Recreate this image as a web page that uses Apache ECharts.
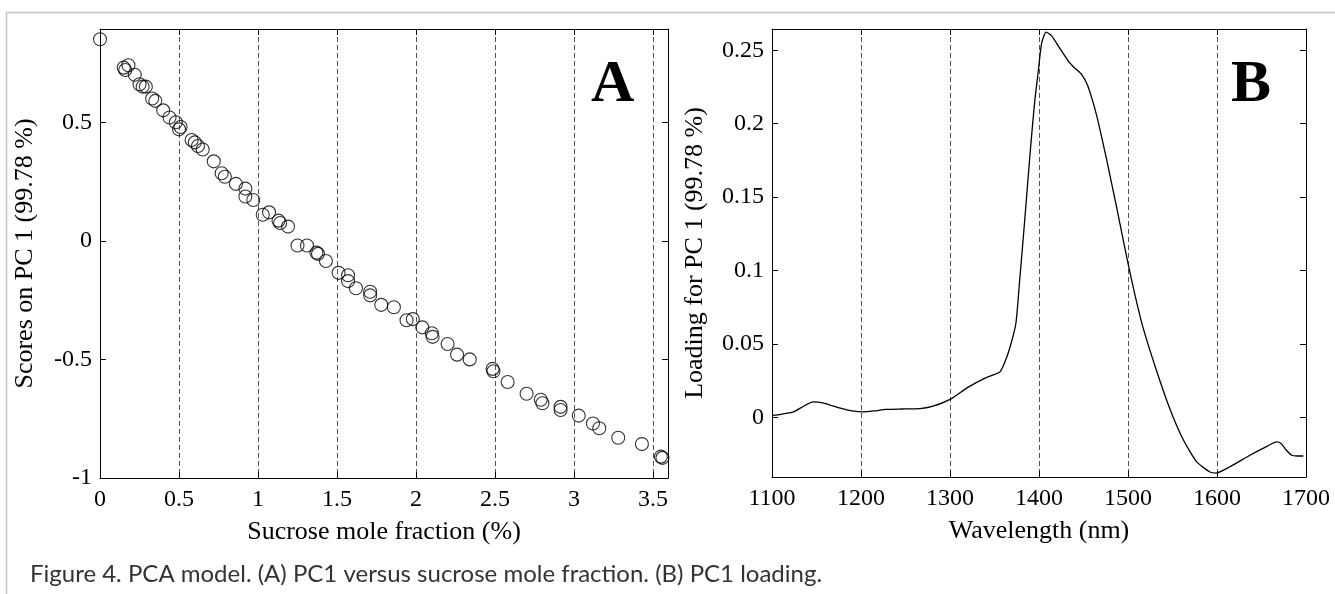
<!DOCTYPE html>
<html>
<head>
<meta charset="utf-8">
<script src="https://cdn.jsdelivr.net/npm/echarts@6/dist/echarts.min.js"></script>
<style>
html,body{margin:0;padding:0;background:#fff;}
#chart{width:1335px;height:594px;}
</style>
</head>
<body>
<div id="chart"></div>
<script>
// ---- Panel A: PC1 scores vs sucrose mole fraction ----
const sucroseX = [0, 0.15, 0.16, 0.18, 0.22, 0.25, 0.27, 0.29, 0.33, 0.35, 0.40, 0.44, 0.48, 0.50, 0.51,
  0.58, 0.60, 0.62, 0.65, 0.72, 0.77, 0.79, 0.86, 0.92, 0.92, 0.97, 1.03, 1.07, 1.13, 1.14, 1.19,
  1.25, 1.31, 1.37, 1.38, 1.43, 1.51, 1.57, 1.57, 1.62, 1.71, 1.71, 1.78, 1.86, 1.94, 1.98, 2.04,
  2.10, 2.105, 2.20, 2.26, 2.34, 2.485, 2.49, 2.58, 2.70, 2.79, 2.80, 2.915, 2.915, 3.03, 3.12,
  3.16, 3.28, 3.43, 3.55, 3.56];
const scoresPC1 = [0.85, 0.73, 0.72, 0.74, 0.70, 0.66, 0.65, 0.65, 0.60, 0.59, 0.55, 0.52, 0.50, 0.47, 0.48,
  0.425, 0.415, 0.40, 0.385, 0.335, 0.285, 0.27, 0.24, 0.22, 0.187, 0.172, 0.11, 0.12, 0.085, 0.075, 0.06,
  -0.02, -0.02, -0.05, -0.055, -0.085, -0.135, -0.145, -0.17, -0.20, -0.215, -0.23, -0.27, -0.28, -0.335, -0.33, -0.365,
  -0.39, -0.405, -0.435, -0.48, -0.50, -0.54, -0.55, -0.595, -0.645, -0.67, -0.685, -0.70, -0.713, -0.737, -0.77,
  -0.79, -0.83, -0.857, -0.91, -0.915];

// ---- Panel B: PC1 loading vs wavelength ----
const wavelength = [1100, 1110, 1124, 1135, 1146, 1157, 1168, 1180, 1190, 1202, 1215, 1228, 1245, 1266, 1280,
  1300, 1320, 1340, 1356, 1361, 1367, 1374, 1378, 1384, 1390, 1395, 1399, 1403, 1408, 1414, 1423,
  1433, 1440, 1448, 1455, 1465, 1476, 1487, 1500, 1508, 1517, 1532, 1547, 1562, 1577, 1592, 1599,
  1614, 1637, 1655, 1667, 1672, 1678, 1684, 1690, 1697];
const loadingPC1 = [0.0015, 0.0022, 0.0038, 0.0075, 0.0106, 0.0100, 0.0080, 0.0058, 0.0045, 0.0038, 0.0045, 0.0055, 0.0058, 0.0060, 0.0075,
  0.0123, 0.0205, 0.0270, 0.0310, 0.0368, 0.0470, 0.0640, 0.0914, 0.1346, 0.1800, 0.2140, 0.2347, 0.2550, 0.2624, 0.2600, 0.2517,
  0.2426, 0.2380, 0.2335, 0.2255, 0.2050, 0.1755, 0.1437, 0.1050, 0.0830, 0.0610, 0.0320, 0.0060, -0.0150, -0.0300, -0.0371, -0.0378,
  -0.0337, -0.0257, -0.0200, -0.0166, -0.0177, -0.0223, -0.0257, -0.0262, -0.0262];

const titleA_x = 'Sucrose mole fraction (%)';
const titleA_y = 'Scores on PC 1 (99.78 %)';
const titleB_x = 'Wavelength (nm)';
const titleB_y = 'Loading for PC 1 (99.78 %)';
const caption = 'Figure 4. PCA model. (A) PC1 versus sucrose mole fraction. (B) PC1 loading.';

const serif = 'Liberation Serif';
const plain = v => String(+v.toFixed(6));
const lblStyle = {color: '#000', fontFamily: serif, fontSize: 24, formatter: plain};
const nameStyle = {color: '#000', fontFamily: serif, fontSize: 26};
const axLine = {show: true, onZero: false, lineStyle: {color: '#000', width: 1}};
const tickIn = {show: true, inside: true, length: 6, lineStyle: {color: '#000', width: 1}};
const dashGrid = {show: true, lineStyle: {color: '#555', width: 1, type: [5, 3]}};

const chart = echarts.init(document.getElementById('chart'), null, {renderer: 'canvas'});
chart.setOption({
  animation: false,
  backgroundColor: '#fff',
  grid: [
    {left: 100, right: 667, top: 29, bottom: 116, containLabel: false},
    {left: 772, right: 29, top: 29, bottom: 117, containLabel: false}
  ],
  xAxis: [
    {gridIndex: 0, type: 'value', min: 0, max: 3.595, interval: 0.5, position: 'bottom',
      axisLine: axLine, axisTick: tickIn, splitLine: dashGrid,
      axisLabel: Object.assign({margin: 10, showMaxLabel: false}, lblStyle),
      name: titleA_x, nameLocation: 'middle', nameGap: 41, nameTextStyle: nameStyle},
    {gridIndex: 0, type: 'value', min: 0, max: 3.595, interval: 0.5, position: 'top',
      axisLine: axLine, axisTick: tickIn, splitLine: {show: false}, axisLabel: {show: false}},
    {gridIndex: 1, type: 'value', min: 1100, max: 1700, interval: 100, position: 'bottom',
      axisLine: axLine, axisTick: tickIn, splitLine: dashGrid,
      axisLabel: Object.assign({margin: 10}, lblStyle),
      name: titleB_x, nameLocation: 'middle', nameGap: 41, nameTextStyle: nameStyle},
    {gridIndex: 1, type: 'value', min: 1100, max: 1700, interval: 100, position: 'top',
      axisLine: axLine, axisTick: tickIn, splitLine: {show: false}, axisLabel: {show: false}}
  ],
  yAxis: [
    {gridIndex: 0, type: 'value', min: -1, max: 0.893, interval: 0.5, position: 'left',
      axisLine: axLine, axisTick: tickIn, splitLine: {show: false},
      axisLabel: Object.assign({margin: 8, showMaxLabel: false}, lblStyle),
      name: titleA_y, nameLocation: 'middle', nameGap: 62, nameTextStyle: nameStyle},
    {gridIndex: 0, type: 'value', min: -1, max: 0.893, interval: 0.5, position: 'right',
      axisLine: axLine, axisTick: tickIn, splitLine: {show: false}, axisLabel: {show: false}},
    {gridIndex: 1, type: 'value', min: -0.0405, max: 0.2645, splitNumber: 6, position: 'left',
      axisLine: axLine, axisTick: tickIn, splitLine: {show: false},
      axisLabel: Object.assign({margin: 8, showMinLabel: false, showMaxLabel: false}, lblStyle),
      name: titleB_y, nameLocation: 'middle', nameGap: 64, nameTextStyle: nameStyle},
    {gridIndex: 1, type: 'value', min: -0.0405, max: 0.2645, splitNumber: 6, position: 'right',
      axisLine: axLine, axisTick: tickIn, splitLine: {show: false}, axisLabel: {show: false}}
  ],
  series: [
    {type: 'scatter', xAxisIndex: 0, yAxisIndex: 0, clip: false,
      symbol: 'circle', symbolSize: 13,
      itemStyle: {color: 'rgba(0,0,0,0)', borderColor: '#000', borderWidth: 1.1},
      data: sucroseX.map((x, i) => [x, scoresPC1[i]])},
    {type: 'line', xAxisIndex: 2, yAxisIndex: 2, showSymbol: false, smooth: 0.2,
      lineStyle: {color: '#000', width: 1.3},
      data: wavelength.map((x, i) => [x, loadingPC1[i]])}
  ],
  graphic: [
    {type: 'polyline', shape: {points: [[6.5, 594], [6.5, 12.5], [1335, 12.5]]},
      style: {stroke: '#c4c4c4', lineWidth: 1.5, fill: null}, silent: true},
    {type: 'text', left: 591, top: 55,
      style: {text: 'A', font: 'bold 60px "Liberation Serif"', fill: '#000'}},
    {type: 'text', left: 1231, top: 55,
      style: {text: 'B', font: 'bold 60px "Liberation Serif"', fill: '#000'}},
    {type: 'text', left: 30, top: 562,
      style: {text: caption, font: '24px Lato', fill: '#333'}}
  ]
});
</script>
</body>
</html>
